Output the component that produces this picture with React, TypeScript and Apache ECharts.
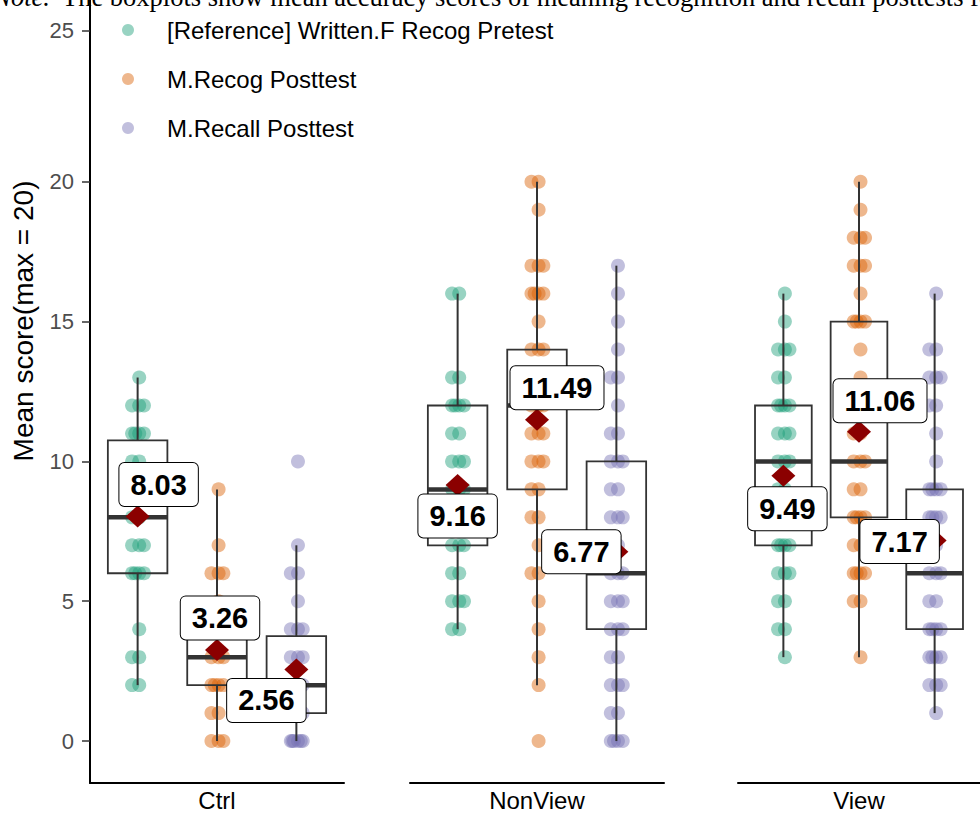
import React, { useEffect, useRef } from "react";
import * as echarts from "echarts";

// ---------- data ----------
const categories = ["Ctrl", "NonView", "View"];
const seriesNames = [
  "[Reference] Written.F Recog Pretest",
  "M.Recog Posttest",
  "M.Recall Posttest",
];

// individual scores (jittered points)
const ctrlPretest = [13, 12, 12, 12, 11, 11, 11, 11, 10, 10, 9, 9, 8, 8, 7, 7, 7, 6, 6, 6, 6, 4, 3, 3, 2, 2];
const ctrlRecog = [9, 7, 6, 6, 6, 5, 4, 4, 3, 3, 3, 2, 2, 2, 2, 1, 1, 0, 0, 0];
const ctrlRecall = [10, 7, 6, 6, 5, 4, 4, 4, 3, 3, 3, 2, 2, 2, 1, 1, 1, 0, 0, 0, 0, 0, 0];
const nonViewPretest = [16, 16, 13, 13, 12, 12, 12, 12, 11, 11, 10, 10, 10, 9, 9, 9, 8, 8, 8, 7, 7, 7, 6, 6, 5, 5, 5, 4, 4];
const nonViewRecog = [20, 20, 19, 17, 17, 17, 16, 16, 16, 16, 15, 14, 14, 14, 13, 13, 12, 12, 12, 11, 11, 11, 10, 10, 10, 9, 9, 8, 8, 7, 6, 6, 5, 4, 3, 2, 0];
const nonViewRecall = [17, 16, 15, 14, 13, 13, 12, 11, 11, 10, 10, 10, 9, 9, 8, 8, 8, 7, 7, 6, 6, 6, 5, 5, 5, 4, 4, 4, 3, 3, 2, 2, 2, 1, 1, 0, 0, 0, 0];
const viewPretest = [16, 15, 14, 14, 14, 13, 13, 12, 12, 12, 12, 11, 11, 11, 10, 10, 10, 9, 9, 8, 7, 7, 7, 7, 6, 6, 6, 5, 5, 4, 4, 3];
const viewRecog = [20, 19, 18, 18, 18, 17, 17, 17, 16, 15, 15, 15, 15, 14, 13, 12, 12, 11, 11, 10, 10, 10, 9, 9, 8, 8, 8, 8, 7, 7, 6, 6, 6, 6, 5, 5, 3];
const viewRecall = [16, 14, 14, 13, 13, 13, 12, 12, 11, 10, 9, 9, 9, 9, 8, 8, 8, 8, 7, 7, 6, 6, 6, 5, 5, 4, 4, 4, 4, 3, 3, 3, 3, 2, 2, 2, 1];

// box statistics [lower whisker, Q1, median, Q3, upper whisker]
const ctrlBoxes = [[2, 6, 8, 10.75, 13], [0, 2, 3, 4, 9], [0, 1, 2, 3.75, 7]];
const nonViewBoxes = [[4, 7, 9, 12, 16], [2, 9, 12, 14, 20], [0, 4, 6, 10, 17]];
const viewBoxes = [[3, 7, 10, 12, 16], [3, 8, 10, 15, 20], [1, 4, 6, 9, 16]];

// means
const ctrlMeans = [8.03, 3.26, 2.56];
const nonViewMeans = [9.16, 11.49, 6.77];
const viewMeans = [9.49, 11.06, 7.17];

// y ticks (the reference draws its "25" slightly above the linear position)
const yTickValues = [0, 5, 10, 15, 20, 25.4];
const yTickLabels = ["0", "5", "10", "15", "20", "25"];

const captionLead = "Note.";
const captionText = "The boxplots show mean accuracy scores of meaning recognition and recall posttests for";
const yTitle = "Mean score(max = 20)";

// ---------- layout / style ----------
const panelScores = [
  [ctrlPretest, ctrlRecog, ctrlRecall],
  [nonViewPretest, nonViewRecog, nonViewRecall],
  [viewPretest, viewRecog, viewRecall],
];
const panelBoxes = [ctrlBoxes, nonViewBoxes, viewBoxes];
const panelMeans = [ctrlMeans, nonViewMeans, viewMeans];

const COLORS = ["#1B9E77", "#D95F02", "#7570B3"];
const PANEL_LEFT = [90, 410, 738];
const PANEL_WIDTH = 254;
const SLOT_X = [-1, 0, 1];
const BOX_WIDTH = 0.75;
const DODGE = [0.02, -0.07, 0.08, -0.03, 0.055, -0.05];
const LABEL_OFFSETS = [
  [[21, -32], [3, -32], [-30, 31]],
  [[0, 31], [20, -32], [-35, 0]],
  [[4, 33], [21, -31], [-35, 1]],
];
const FONT = '"Liberation Sans", Arial, sans-serif';
const SERIF = '"Liberation Serif", "Times New Roman", serif';

function jitterPoints(scores: number[], slot: number) {
  const seen: Record<number, number> = {};
  return scores.map((v) => {
    const k = seen[v] || 0;
    seen[v] = k + 1;
    return [SLOT_X[slot] + DODGE[k % DODGE.length], v];
  });
}

export default function App() {
  const ref = useRef<HTMLDivElement>(null);

  useEffect(() => {
    if (!ref.current) return;
    const chart = echarts.init(ref.current, undefined, { renderer: "svg" });

    const grid = categories.map((_, i) => ({
      left: PANEL_LEFT[i],
      width: PANEL_WIDTH,
      top: 0,
      bottom: 31,
    }));

    const xAxis = categories.map((c, i) => ({
      gridIndex: i,
      type: "value",
      min: -1.6,
      max: 1.6,
      axisLine: { show: true, onZero: false, lineStyle: { color: "#000", width: 2 } },
      axisTick: { show: false },
      axisLabel: { show: false },
      splitLine: { show: false },
      name: c,
      nameLocation: "middle",
      nameGap: 5,
      nameTextStyle: { fontSize: 24, color: "#000", fontFamily: FONT },
    }));

    const yAxis = categories.map((_, i) => ({
      gridIndex: i,
      type: "value",
      min: -1.5,
      max: 26.5,
      show: i === 0,
      axisLine: { show: true, onZero: false, lineStyle: { color: "#000", width: 2 } },
      axisTick: {
        show: true,
        length: 8,
        customValues: yTickValues,
        lineStyle: { color: "#333", width: 1.5 },
      },
      axisLabel: {
        customValues: yTickValues,
        margin: 16,
        fontSize: 22,
        color: "#4D4D4D",
        fontFamily: FONT,
        formatter: (v: number) => {
          let best = 0;
          yTickValues.forEach((t, j) => {
            if (Math.abs(t - v) < Math.abs(yTickValues[best] - v)) best = j;
          });
          return yTickLabels[best];
        },
      },
      splitLine: { show: false },
    }));

    const series: any[] = [];
    panelScores.forEach((groups, p) => {
      groups.forEach((scores, s) => {
        series.push({
          type: "scatter",
          name: seriesNames[s],
          xAxisIndex: p,
          yAxisIndex: p,
          data: jitterPoints(scores, s),
          symbol: "circle",
          symbolSize: 14,
          itemStyle: { color: COLORS[s], opacity: 0.45 },
          z: 2,
          silent: true,
        });
      });
      series.push({
        type: "custom",
        name: "box" + p,
        xAxisIndex: p,
        yAxisIndex: p,
        z: 3,
        silent: true,
        encode: { x: 0, y: [1, 2, 3, 4, 5] },
        data: panelBoxes[p].map((b, s) => [SLOT_X[s], ...b]),
        renderItem: (_params: any, api: any) => {
          const x = api.value(0);
          const lo = api.coord([x, api.value(1)]);
          const q1 = api.coord([x, api.value(2)]);
          const med = api.coord([x, api.value(3)]);
          const q3 = api.coord([x, api.value(4)]);
          const hi = api.coord([x, api.value(5)]);
          const half = api.size([BOX_WIDTH, 0])[0] / 2;
          const cx = lo[0];
          const stroke = "#333";
          return {
            type: "group",
            children: [
              { type: "line", shape: { x1: cx, y1: hi[1], x2: cx, y2: q3[1] }, style: { stroke, lineWidth: 2 } },
              { type: "line", shape: { x1: cx, y1: q1[1], x2: cx, y2: lo[1] }, style: { stroke, lineWidth: 2 } },
              {
                type: "rect",
                shape: { x: cx - half, y: q3[1], width: 2 * half, height: q1[1] - q3[1] },
                style: { fill: "transparent", stroke, lineWidth: 1.8 },
              },
              {
                type: "line",
                shape: { x1: cx - half, y1: med[1], x2: cx + half, y2: med[1] },
                style: { stroke, lineWidth: 4.5 },
              },
            ],
          };
        },
      });
      series.push({
        type: "scatter",
        name: "mean" + p,
        xAxisIndex: p,
        yAxisIndex: p,
        z: 4,
        silent: true,
        symbol: "diamond",
        symbolSize: [24, 22],
        itemStyle: { color: "#8B0000", opacity: 1 },
        data: panelMeans[p].map((m, s) => ({
          value: [SLOT_X[s], m],
          label: { offset: LABEL_OFFSETS[p][s] },
        })),
        label: {
          show: true,
          position: "inside",
          formatter: (pr: any) => pr.value[1].toFixed(2),
          fontSize: 29,
          fontWeight: "bold",
          fontFamily: FONT,
          color: "#000",
          lineHeight: 29,
          backgroundColor: "#fff",
          borderColor: "#000",
          borderWidth: 1,
          borderRadius: 5,
          padding: [7, 11],
        },
      });
    });

    chart.setOption({
      animation: false,
      backgroundColor: "#fff",
      grid,
      xAxis,
      yAxis,
      legend: {
        data: seriesNames,
        orient: "vertical",
        left: 122,
        top: 18,
        padding: 0,
        itemWidth: 68,
        itemHeight: 12,
        itemGap: 25,
        icon: "circle",
        selectedMode: false,
        textStyle: { fontSize: 24, color: "#000", fontFamily: FONT, lineHeight: 24 },
      },
      graphic: [
        {
          type: "text",
          x: 23,
          y: 321,
          rotation: Math.PI / 2,
          silent: true,
          style: {
            text: yTitle,
            font: "28px " + FONT,
            fill: "#000",
            align: "center",
            textAlign: "center",
            verticalAlign: "middle",
            textVerticalAlign: "middle",
          },
        },
        {
          type: "text",
          x: 50,
          y: -3,
          silent: true,
          style: {
            text: captionLead,
            font: "italic 26.5px " + SERIF,
            fill: "#000",
            align: "right",
            textAlign: "right",
            verticalAlign: "middle",
            textVerticalAlign: "middle",
          },
        },
        {
          type: "text",
          x: 62,
          y: -3,
          silent: true,
          style: {
            text: captionText,
            font: "26.5px " + SERIF,
            fill: "#000",
            align: "left",
            textAlign: "left",
            verticalAlign: "middle",
            textVerticalAlign: "middle",
          },
        },
      ],
      series,
    });

    return () => chart.dispose();
  }, []);

  return (
    <div
      ref={ref}
      style={{ position: "absolute", left: 0, top: 0, width: 980, height: 817 }}
    />
  );
}
